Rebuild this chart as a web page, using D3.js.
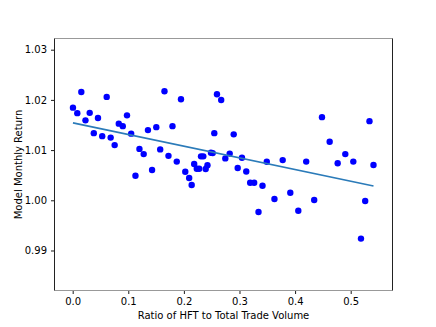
<!DOCTYPE html>
<html>
<head>
<meta charset="utf-8">
<script src="https://cdnjs.cloudflare.com/ajax/libs/d3/7.8.5/d3.min.js"></script>
<style>
  body { margin: 0; background: #fff; }
  text { font-family: "DejaVu Sans", sans-serif; fill: #000; }
</style>
</head>
<body>
<div id="chart"></div>
<script>
// HFT ratio (x) and model monthly return (y)
var hftRatio = [0.0005, 0.0083, 0.0155, 0.0230, 0.0306, 0.0380, 0.0455, 0.0531, 0.0612, 0.0683,
  0.0755, 0.0829, 0.0901, 0.0977, 0.1052, 0.1129, 0.1201, 0.1277, 0.1354, 0.1428,
  0.1504, 0.1574, 0.1651, 0.1723, 0.1795, 0.1872, 0.1948, 0.2025, 0.2095, 0.2140,
  0.2185, 0.2232, 0.2275, 0.2308, 0.2349, 0.2392, 0.2424, 0.2487, 0.2518, 0.2547,
  0.2595, 0.2671, 0.2745, 0.2824, 0.2896, 0.2968, 0.3045, 0.3122, 0.3192, 0.3264,
  0.3342, 0.3414, 0.3491, 0.3629, 0.3777, 0.3914, 0.4058, 0.4200, 0.4344, 0.4484,
  0.4622, 0.4766, 0.4903, 0.5047, 0.5185, 0.5261, 0.5338, 0.5410];
var monthlyReturn = [1.01845, 1.01736, 1.02157, 1.01592, 1.01742, 1.01338, 1.01640, 1.01278, 1.02060, 1.01249,
  1.01099, 1.01527, 1.01477, 1.01692, 1.01328, 1.00489, 1.01024, 1.00920, 1.01398, 1.00602,
  1.01457, 1.01014, 1.02173, 1.00885, 1.01477, 1.00771, 1.02014, 1.00569, 1.00443, 1.00304,
  1.00722, 1.00628, 1.00628, 1.00875, 1.00875, 1.00622, 1.00698, 1.00946, 1.00940, 1.01338,
  1.02113, 1.01998, 1.00835, 1.00930, 1.01314, 1.00642, 1.00847, 1.00573, 1.00350, 1.00350,
  0.99767, 1.00290, 1.00767, 1.00026, 1.00801, 1.00151, 0.99793, 1.00771, 1.00006, 1.01656,
  1.01165, 1.00738, 1.00920, 1.00771, 0.99237, 0.99986, 1.01577, 1.00702];

// fitted trend line (intercept, slope)
var fitIntercept = 1.01543;
var fitSlope = -0.02327;

var xTicks = [0.0, 0.1, 0.2, 0.3, 0.4, 0.5];
var yTicks = [0.99, 1.00, 1.01, 1.02, 1.03];

var width = 436,
  height = 327;
var plot = { left: 54.5, right: 392.5, top: 38.5, bottom: 290.5 };

var svg = d3.select("#chart")
  .append("svg")
  .attr("width", width)
  .attr("height", height);

var x = d3.scaleLinear()
  .domain([-0.0327, 0.5752])
  .range([plot.left, plot.right]);

var y = d3.scaleLinear()
  .domain([0.98203, 1.03223])
  .range([plot.bottom, plot.top]);

// axes
var xAxis = svg.append("g")
  .attr("transform", "translate(0," + plot.bottom + ")")
  .call(d3.axisBottom(x).tickValues(xTicks).tickFormat(d3.format(".1f")).tickSize(3.5).tickPadding(4));

var yAxis = svg.append("g")
  .attr("transform", "translate(" + plot.left + ",0)")
  .call(d3.axisLeft(y).tickValues(yTicks).tickFormat(d3.format(".2f")).tickSize(3.5).tickPadding(4));

[xAxis, yAxis].forEach(function(a) {
  a.select(".domain").remove();
  a.selectAll(".tick line").attr("stroke", "#000").attr("stroke-width", 0.9);
  a.selectAll(".tick text")
    .style("font-family", "DejaVu Sans, sans-serif")
    .style("font-size", "10px")
    .attr("fill", "#000");
});

// frame
svg.append("line")
  .attr("x1", plot.left).attr("x2", plot.right)
  .attr("y1", plot.top).attr("y2", plot.top)
  .attr("stroke", "#999").attr("stroke-width", 1);
svg.append("line")
  .attr("x1", plot.left).attr("x2", plot.right)
  .attr("y1", plot.bottom).attr("y2", plot.bottom)
  .attr("stroke", "#999").attr("stroke-width", 1);
svg.append("line")
  .attr("x1", plot.left).attr("x2", plot.left)
  .attr("y1", plot.top).attr("y2", plot.bottom)
  .attr("stroke", "#222").attr("stroke-width", 1);
svg.append("line")
  .attr("x1", plot.right).attr("x2", plot.right)
  .attr("y1", plot.top).attr("y2", plot.bottom)
  .attr("stroke", "#222").attr("stroke-width", 1);

// points
svg.append("g")
  .selectAll("circle")
  .data(hftRatio)
  .enter().append("circle")
  .attr("cx", function(d) { return x(d); })
  .attr("cy", function(d, i) { return y(monthlyReturn[i]); })
  .attr("r", 3.2)
  .attr("fill", "#0000ff");

// trend line over the data's x range
var xExtent = d3.extent(hftRatio);
svg.append("path")
  .datum(xExtent)
  .attr("fill", "none")
  .attr("stroke", "#2b7bb9")
  .attr("stroke-width", 1.7)
  .attr("d", d3.line()
    .x(function(d) { return x(d); })
    .y(function(d) { return y(fitIntercept + fitSlope * d); }));

// labels
svg.append("text")
  .attr("x", (plot.left + plot.right) / 2)
  .attr("y", 319)
  .attr("text-anchor", "middle")
  .style("font-size", "10px")
  .text("Ratio of HFT to Total Trade Volume");

svg.append("text")
  .attr("transform", "translate(21.5," + ((plot.top + plot.bottom) / 2) + ") rotate(-90)")
  .attr("text-anchor", "middle")
  .style("font-size", "10px")
  .text("Model Monthly Return");
</script>
</body>
</html>
